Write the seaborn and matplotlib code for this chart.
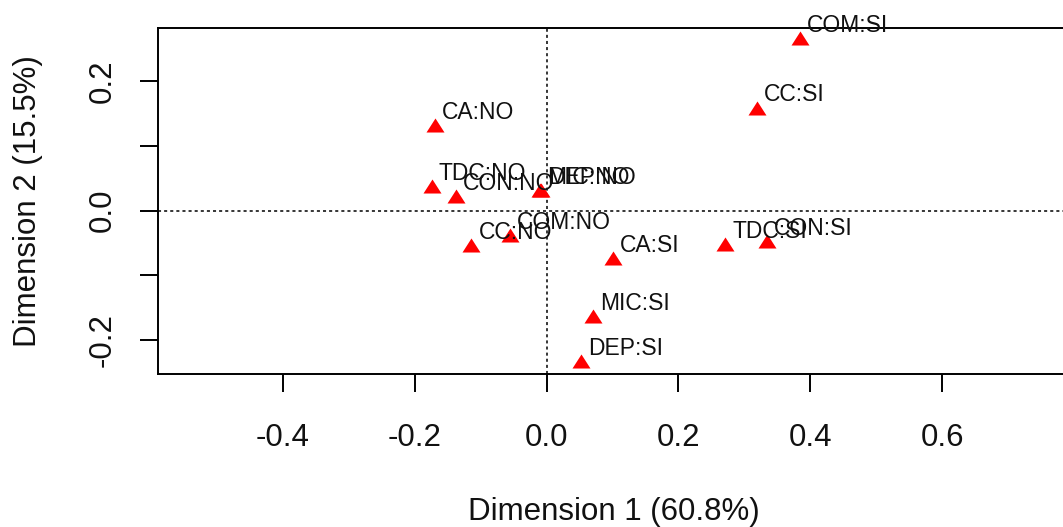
import matplotlib
matplotlib.use("Agg")
import numpy as np
import pandas as pd
import matplotlib.pyplot as plt
import seaborn as sns

# ---- data ----
labels = ["COM:SI", "CC:SI", "TDC:SI", "CON:SI", "CA:NO", "TDC:NO", "CON:NO",
          "MIC:NO", "DEP:NO", "COM:NO", "CC:NO", "CA:SI", "MIC:SI", "DEP:SI"]
dim1 = [0.385, 0.319, 0.271, 0.335, -0.169, -0.174, -0.137,
        -0.010, -0.008, -0.055, -0.114, 0.100, 0.071, 0.052]
dim2 = [0.266, 0.159, -0.052, -0.047, 0.132, 0.038, 0.022,
        0.032, 0.031, -0.038, -0.054, -0.073, -0.163, -0.233]
x_ticks = [-0.4, -0.2, 0.0, 0.2, 0.4, 0.6]
x_tick_labels = ["-0.4", "-0.2", "0.0", "0.2", "0.4", "0.6"]
y_ticks = [-0.2, -0.1, 0.0, 0.1, 0.2]
y_tick_labels = ["-0.2", "", "0.0", "", "0.2"]
x_title = "Dimension 1 (60.8%)"
y_title = "Dimension 2 (15.5%)"

sns.set_theme(style="white")
plt.rcParams['font.family'] = ['Liberation Sans', 'DejaVu Sans']

W, H = 1063, 527
fig = plt.figure(figsize=(W / 100, H / 100), dpi=100)
L, R, T, B = 158, 1069, 28, 374
ax = fig.add_axes([L / W, 1 - B / H, (R - L) / W, (B - T) / H])

df = pd.DataFrame({"label": labels, "dim1": dim1, "dim2": dim2})

tri = [(-1, -0.78), (1, -0.78), (0, 0.78)]
sns.scatterplot(data=df, x="dim1", y="dim2", marker=tri, s=168, color="#ff0000",
                linewidth=0, ax=ax, zorder=3)

ax.axhline(0, color="black", lw=1.1, ls=(0, (2, 2)), zorder=1)
ax.axvline(0, color="black", lw=1.1, ls=(0, (2, 2)), zorder=1)

for lab, x, y in zip(df["label"], df["dim1"], df["dim2"]):
    ax.annotate(lab, (x, y), xytext=(5, 4.5), textcoords="offset points",
                ha="left", va="baseline", fontsize=16.5, color="#111111", zorder=4)

ax.set_xlim((158 - 546.6) / 659, (1069 - 546.6) / 659)
ax.set_ylim((210.5 - 374) / 647.5, (210.5 - 28) / 647.5)

ax.set_xticks(x_ticks)
ax.set_xticklabels(x_tick_labels)
ax.set_yticks(y_ticks)
ax.set_yticklabels(y_tick_labels, rotation=90, va="center")
ax.tick_params(axis="both", length=13, width=1.4, color="black", labelsize=22.5,
               labelcolor="#111111", bottom=True, left=True)
ax.tick_params(axis="x", pad=22)
ax.tick_params(axis="y", pad=16)

for sp in ax.spines.values():
    sp.set_color("black")
    sp.set_linewidth(1.4)

ax.set_xlabel(x_title, fontsize=22.5, color="#111111", va="baseline", ha="center")
ax.xaxis.set_label_coords(0.5, (374 - 520) / 346)
ax.set_ylabel(y_title, fontsize=22.5, color="#111111", va="center", ha="center",
              rotation=90, rotation_mode="default")
ax.yaxis.set_label_coords((28 - 158) / 911, 0.5)

fig.savefig("out.png", dpi=100)
